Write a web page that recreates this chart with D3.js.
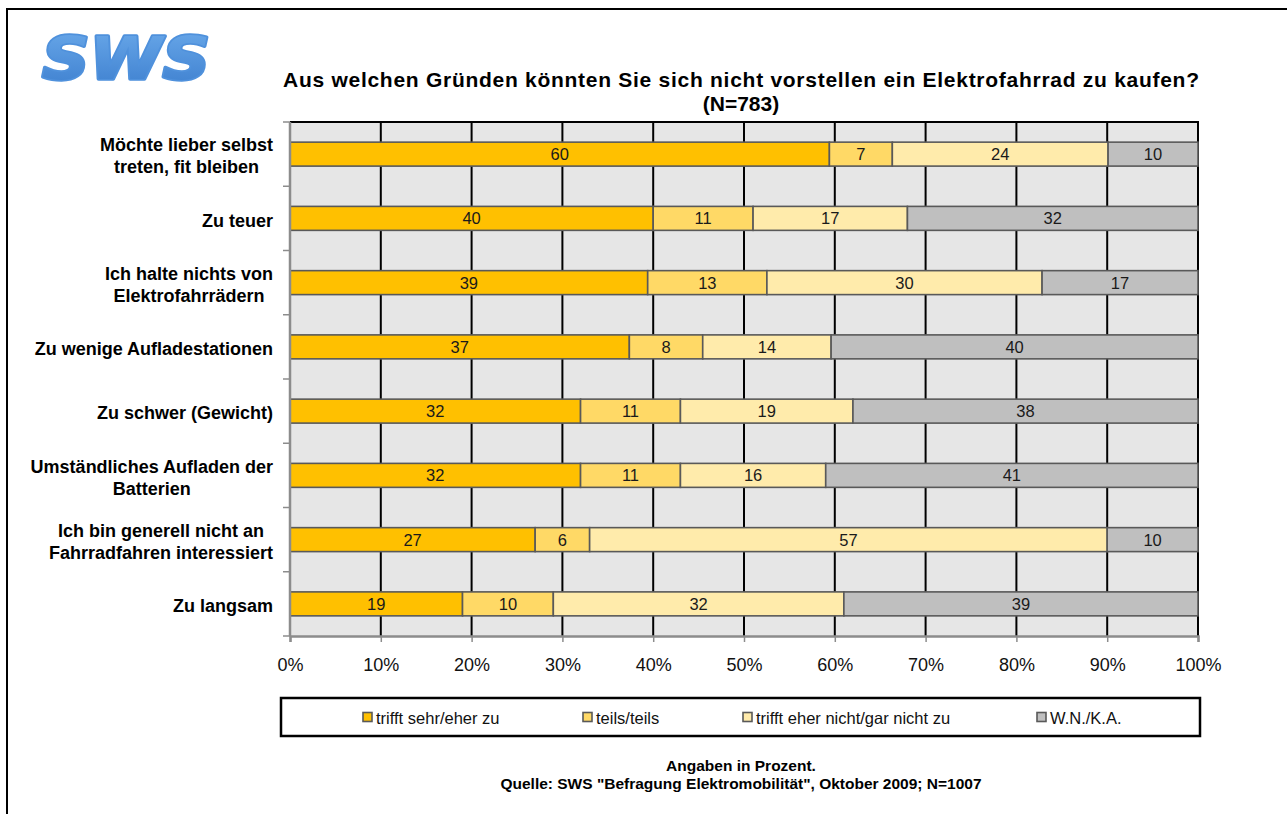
<!DOCTYPE html>
<html>
<head>
<meta charset="utf-8">
<script src="https://cdn.jsdelivr.net/npm/d3@7"></script>
<style>
  html, body { margin: 0; padding: 0; background: #fff; }
  svg { display: block; font-family: "Liberation Sans", Arial, sans-serif; }
</style>
</head>
<body>
<svg id="chart" width="1287" height="814"></svg>
<script>
// Reasons (rows, top to bottom), each split into four answer groups
const categories = [
  ["Möchte lieber selbst", "treten, fit bleiben"],
  ["Zu teuer"],
  ["Ich halte nichts von", "Elektrofahrrädern"],
  ["Zu wenige Aufladestationen"],
  ["Zu schwer (Gewicht)"],
  ["Umständliches Aufladen der", "Batterien"],
  ["Ich bin generell nicht an", "Fahrradfahren interessiert"],
  ["Zu langsam"]
];
const seriesNames = ["trifft sehr/eher zu", "teils/teils", "trifft eher nicht/gar nicht zu", "W.N./K.A."];
const trifftZu      = [60, 40, 39, 37, 32, 32, 27, 19];
const teilsTeils    = [7, 11, 13, 8, 11, 11, 6, 10];
const trifftNicht   = [24, 17, 30, 14, 19, 16, 57, 32];
const wnKa          = [10, 32, 17, 40, 38, 41, 10, 39];
const xTicks = [0, 10, 20, 30, 40, 50, 60, 70, 80, 90, 100];
const seriesColors = ["#FFC000", "#FFD966", "#FFEBAB", "#BFBFBF"];

const series = [trifftZu, teilsTeils, trifftNicht, wnKa];

const svg = d3.select("#chart");

// Outer frame
svg.append("rect")
  .attr("x", 7).attr("y", 9).attr("width", 1300).attr("height", 820)
  .attr("fill", "none").attr("stroke", "#000").attr("stroke-width", 2);

// Logo
const defs = svg.append("defs");
const grad = defs.append("linearGradient").attr("id", "logoGrad")
  .attr("x1", 0).attr("y1", 0).attr("x2", 0).attr("y2", 1);
grad.append("stop").attr("offset", "0%").attr("stop-color", "#6AA9EA");
grad.append("stop").attr("offset", "100%").attr("stop-color", "#3C7ECE");
svg.append("text")
  .attr("x", 42).attr("y", 79)
  .attr("font-family", "DejaVu Sans, sans-serif")
  .attr("font-weight", "bold").attr("font-style", "italic")
  .attr("font-size", 58)
  .attr("textLength", 168).attr("lengthAdjust", "spacingAndGlyphs")
  .attr("fill", "url(#logoGrad)")
  .attr("stroke", "#4F91DC").attr("stroke-width", 3.5)
  .attr("stroke-linejoin", "round")
  .attr("paint-order", "stroke")
  .text("SWS");

// Title
svg.append("text")
  .attr("x", 741).attr("y", 87)
  .attr("text-anchor", "middle").attr("font-weight", "bold").attr("font-size", 21)
  .attr("textLength", 916).attr("lengthAdjust", "spacing")
  .attr("fill", "#000")
  .text("Aus welchen Gründen könnten Sie sich nicht vorstellen ein Elektrofahrrad zu kaufen?");
svg.append("text")
  .attr("x", 741).attr("y", 111)
  .attr("text-anchor", "middle").attr("font-weight", "bold").attr("font-size", 21)
  .attr("fill", "#000")
  .text("(N=783)");

// Plot area
const plot = { left: 290, right: 1198, top: 122, bottom: 636 };

const x = d3.scaleLinear().domain([0, 100]).range([plot.left, plot.right]);
const y = d3.scaleBand()
  .domain(d3.range(categories.length))
  .range([plot.top, plot.bottom])
  .paddingInner(0.627).paddingOuter(0.3135);

// Background
svg.append("rect")
  .attr("x", plot.left).attr("y", plot.top)
  .attr("width", plot.right - plot.left).attr("height", plot.bottom - plot.top)
  .attr("fill", "#E6E6E6");

// Vertical gridlines
svg.append("g").selectAll("line")
  .data(xTicks.filter(t => t > 0))
  .join("line")
  .attr("x1", d => x(d)).attr("x2", d => x(d))
  .attr("y1", plot.top).attr("y2", plot.bottom)
  .attr("stroke", "#000").attr("stroke-width", 2);

// Top border
svg.append("line")
  .attr("x1", plot.left).attr("x2", plot.right + 1)
  .attr("y1", plot.top).attr("y2", plot.top)
  .attr("stroke", "#000").attr("stroke-width", 2);

// Stacked, normalised segments
const rows = categories.map((c, i) => {
  const vals = series.map(s => s[i]);
  const total = d3.sum(vals);
  let acc = 0;
  return vals.map((v, k) => {
    const seg = { row: i, k, v, x0: acc / total * 100, x1: (acc + v) / total * 100 };
    acc += v;
    return seg;
  });
});
const segs = rows.flat();

const barG = svg.append("g");
barG.selectAll("rect")
  .data(segs)
  .join("rect")
  .attr("x", d => x(d.x0))
  .attr("y", d => y(d.row))
  .attr("width", d => x(d.x1) - x(d.x0))
  .attr("height", y.bandwidth())
  .attr("fill", d => seriesColors[d.k])
  .attr("stroke", "#595959").attr("stroke-width", 1.6);

barG.selectAll("text")
  .data(segs)
  .join("text")
  .attr("x", d => (x(d.x0) + x(d.x1)) / 2)
  .attr("y", d => y(d.row) + y.bandwidth() / 2)
  .attr("dy", "0.36em")
  .attr("text-anchor", "middle")
  .attr("font-size", 16.5).attr("fill", "#1a1a1a")
  .text(d => d.v);

// Left axis (category boundaries as ticks)
const axisColor = "#8C8C8C";
svg.append("line")
  .attr("x1", plot.left).attr("x2", plot.left)
  .attr("y1", plot.top).attr("y2", plot.bottom)
  .attr("stroke", axisColor).attr("stroke-width", 2.5);
svg.append("g").selectAll("line")
  .data(d3.range(categories.length + 1))
  .join("line")
  .attr("x1", plot.left - 7).attr("x2", plot.left)
  .attr("y1", d => plot.top + d * y.step()).attr("y2", d => plot.top + d * y.step())
  .attr("stroke", axisColor).attr("stroke-width", 1.5);

// Bottom axis
const xAxis = svg.append("g")
  .attr("transform", `translate(0,${plot.bottom})`)
  .call(d3.axisBottom(x).tickValues(xTicks).tickFormat(d => d + "%").tickSize(6).tickPadding(16));
xAxis.select(".domain").attr("stroke", axisColor).attr("stroke-width", 2.5);
xAxis.selectAll(".tick line").attr("stroke", axisColor).attr("stroke-width", 1.5);
xAxis.selectAll(".tick text")
  .attr("font-family", "Liberation Sans, Arial, sans-serif")
  .attr("font-size", 18).attr("fill", "#111");

// Category labels: centred block, right-aligned to the axis
const labelRight = 273;
const lineH = 22;
categories.forEach((lines, i) => {
  const cy = y(i) + y.bandwidth() / 2 + 2;
  const g = svg.append("g");
  const texts = lines.map((ln, j) => g.append("text")
    .attr("font-weight", "bold").attr("font-size", 18).attr("fill", "#000")
    .attr("text-anchor", "middle")
    .attr("y", cy + (j - (lines.length - 1) / 2) * lineH)
    .attr("dy", "0.35em")
    .text(ln));
  const maxW = d3.max(texts, t => t.node().getComputedTextLength());
  texts.forEach(t => t.attr("x", labelRight - maxW / 2));
});

// Legend
svg.append("rect")
  .attr("x", 281).attr("y", 698).attr("width", 919).attr("height", 38)
  .attr("fill", "#fff").attr("stroke", "#000").attr("stroke-width", 2.5);
const legendX = [363, 583, 743, 1037];
const legend = svg.append("g").selectAll("g")
  .data(seriesNames)
  .join("g")
  .attr("transform", (d, i) => `translate(${legendX[i]},717)`);
legend.append("rect")
  .attr("x", 0).attr("y", -4.5).attr("width", 9).attr("height", 9)
  .attr("fill", (d, i) => seriesColors[i])
  .attr("stroke", "#595959").attr("stroke-width", 1.6);
legend.append("text")
  .attr("x", 13).attr("y", 1).attr("dy", "0.35em")
  .attr("font-size", 16.5).attr("fill", "#111")
  .text(d => d);

// Footnotes
svg.append("text")
  .attr("x", 741).attr("y", 771)
  .attr("text-anchor", "middle").attr("font-weight", "bold").attr("font-size", 15.5)
  .text("Angaben in Prozent.");
svg.append("text")
  .attr("x", 741).attr("y", 789)
  .attr("text-anchor", "middle").attr("font-weight", "bold").attr("font-size", 15.5)
  .text("Quelle: SWS \"Befragung Elektromobilität\", Oktober 2009; N=1007");
</script>
</body>
</html>
